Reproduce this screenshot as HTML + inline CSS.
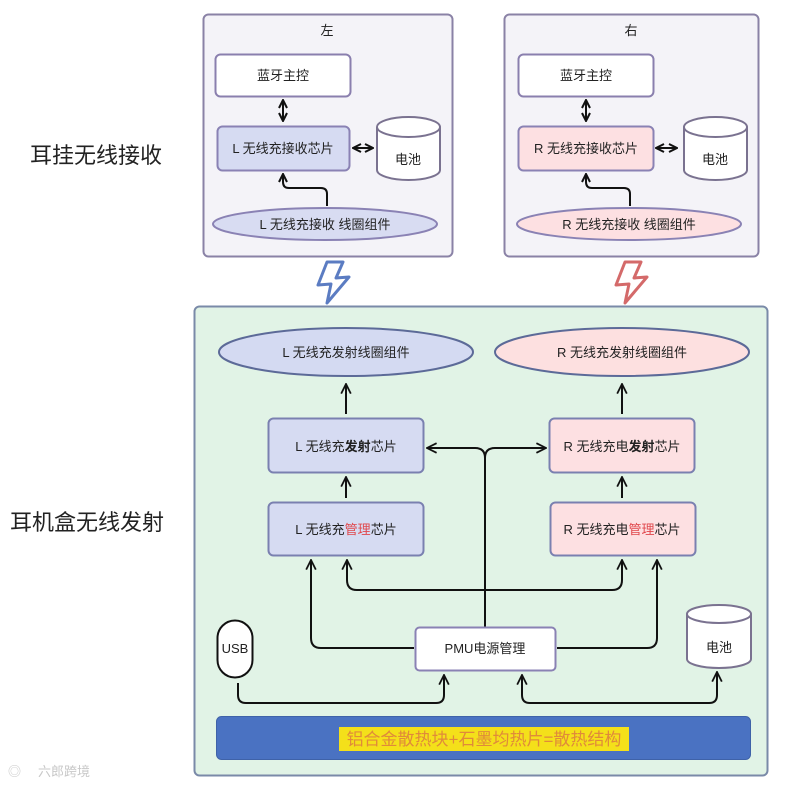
<!DOCTYPE html>
<html><head><meta charset="utf-8"><style>
html,body{margin:0;padding:0;background:#fff;}
svg{display:block;font-family:"Liberation Sans","Noto Sans CJK SC",sans-serif;}
</style></head><body>
<svg width="792" height="787" viewBox="0 0 792 787" xmlns="http://www.w3.org/2000/svg">
<defs>
<marker id="a" viewBox="0 0 10 10" refX="9" refY="5" markerWidth="10" markerHeight="10" orient="auto-start-reverse" markerUnits="userSpaceOnUse">
<path d="M1,1 L9,5 L1,9" fill="none" stroke="#111" stroke-width="2"/>
</marker>
<marker id="b" viewBox="0 0 10 10" refX="9" refY="5" markerWidth="12" markerHeight="12" orient="auto-start-reverse" markerUnits="userSpaceOnUse">
<path d="M1,1 L9,5 L1,9" fill="none" stroke="#111" stroke-width="1.5"/>
</marker>
</defs>
<g font-size="22" fill="#222">
<text x="30" y="163">耳挂无线接收</text>
<text x="10" y="530">耳机盒无线发射</text>
</g>
<g>
<rect x="203.5" y="14.5" width="249" height="242" rx="5" fill="#f4f3f8" stroke="#8a82a6" stroke-width="2"/>
<text x="327" y="35" font-size="13" text-anchor="middle" fill="#222">左</text>
<rect x="215.5" y="54.5" width="135" height="42" rx="5" fill="#fff" stroke="#8a7fae" stroke-width="2"/>
<text x="283" y="80" font-size="13" text-anchor="middle" fill="#222">蓝牙主控</text>
<line x1="283" y1="100" x2="283" y2="121" stroke="#111" stroke-width="2" marker-start="url(#a)" marker-end="url(#a)"/>
<rect x="217.5" y="126.5" width="132" height="44" rx="5" fill="#d6dbf2" stroke="#8a82b4" stroke-width="2"/>
<text x="283" y="153" font-size="13" text-anchor="middle" fill="#222">L 无线充接收芯片</text>
<line x1="353" y1="148" x2="373" y2="148" stroke="#111" stroke-width="2" marker-start="url(#a)" marker-end="url(#a)"/>
<path d="M377,127 v43 a31.5,10 0 0 0 63,0 v-43" fill="#fff" stroke="#7a7290" stroke-width="2"/>
<ellipse cx="408.5" cy="127" rx="31.5" ry="10" fill="#fff" stroke="#7a7290" stroke-width="2"/>
<text x="408" y="164" font-size="13" text-anchor="middle" fill="#222">电池</text>
<path d="M327,206 V194 q0,-6 -6,-6 H289 q-6,0 -6,-6 V174" fill="none" stroke="#111" stroke-width="2" marker-end="url(#a)"/>
<ellipse cx="325" cy="224" rx="112" ry="16" fill="#d8dcf2" stroke="#8a82b4" stroke-width="2"/>
<text x="325" y="229" font-size="13" text-anchor="middle" fill="#222">L 无线充接收 线圈组件</text>
</g>
<g>
<rect x="504.5" y="14.5" width="254" height="242" rx="5" fill="#f4f3f8" stroke="#8a82a6" stroke-width="2"/>
<text x="631" y="35" font-size="13" text-anchor="middle" fill="#222">右</text>
<rect x="518.5" y="54.5" width="135" height="42" rx="5" fill="#fff" stroke="#8a7fae" stroke-width="2"/>
<text x="586" y="80" font-size="13" text-anchor="middle" fill="#222">蓝牙主控</text>
<line x1="586" y1="100" x2="586" y2="121" stroke="#111" stroke-width="2" marker-start="url(#a)" marker-end="url(#a)"/>
<rect x="518.5" y="126.5" width="135" height="44" rx="5" fill="#fde0e2" stroke="#8a82b4" stroke-width="2"/>
<text x="586" y="153" font-size="13" text-anchor="middle" fill="#222">R 无线充接收芯片</text>
<line x1="656" y1="148" x2="677" y2="148" stroke="#111" stroke-width="2" marker-start="url(#a)" marker-end="url(#a)"/>
<path d="M684,127 v43 a31.5,10 0 0 0 63,0 v-43" fill="#fff" stroke="#7a7290" stroke-width="2"/>
<ellipse cx="715.5" cy="127" rx="31.5" ry="10" fill="#fff" stroke="#7a7290" stroke-width="2"/>
<text x="715" y="164" font-size="13" text-anchor="middle" fill="#222">电池</text>
<path d="M630,206 V194 q0,-6 -6,-6 H592 q-6,0 -6,-6 V174" fill="none" stroke="#111" stroke-width="2" marker-end="url(#a)"/>
<ellipse cx="629" cy="224" rx="112" ry="16" fill="#fde0e2" stroke="#8a82b4" stroke-width="2"/>
<text x="629" y="229" font-size="13" text-anchor="middle" fill="#222">R 无线充接收 线圈组件</text>
</g>
<path d="M327,262 L318,285 L331,284 L327,303 L349,277 L336,278 L343,262 Z" fill="#fff" stroke="#5b7cc2" stroke-width="3" stroke-linejoin="round"/>
<path d="M625,262 L616,285 L629,284 L625,303 L647,277 L634,278 L641,262 Z" fill="#fff" stroke="#d46a6a" stroke-width="3" stroke-linejoin="round"/>
<rect x="194.5" y="306.5" width="573" height="469" rx="5" fill="#e1f3e6" stroke="#7a8aa8" stroke-width="2"/>
<ellipse cx="346" cy="352" rx="127" ry="24" fill="#d4daf2" stroke="#5c6a98" stroke-width="2"/>
<text x="346" y="357" font-size="13" text-anchor="middle" fill="#222">L 无线充发射线圈组件</text>
<ellipse cx="622" cy="352" rx="127" ry="24" fill="#fde0e0" stroke="#5c6a98" stroke-width="2"/>
<text x="622" y="357" font-size="13" text-anchor="middle" fill="#222">R 无线充发射线圈组件</text>
<line x1="346" y1="414" x2="346" y2="384" stroke="#111" stroke-width="2" marker-end="url(#b)"/>
<line x1="622" y1="414" x2="622" y2="384" stroke="#111" stroke-width="2" marker-end="url(#b)"/>
<rect x="268.5" y="418.5" width="155" height="54" rx="5" fill="#d6dbf2" stroke="#7a80b0" stroke-width="2"/>
<text x="346" y="451" font-size="13" text-anchor="middle" fill="#222">L 无线充<tspan font-weight="bold">发射</tspan>芯片</text>
<rect x="549.5" y="418.5" width="145" height="54" rx="5" fill="#fde0e2" stroke="#7a80b0" stroke-width="2"/>
<text x="622" y="451" font-size="13" text-anchor="middle" fill="#222">R 无线充电<tspan font-weight="bold">发射</tspan>芯片</text>
<line x1="346" y1="498" x2="346" y2="477" stroke="#111" stroke-width="2" marker-end="url(#b)"/>
<line x1="622" y1="498" x2="622" y2="477" stroke="#111" stroke-width="2" marker-end="url(#b)"/>
<rect x="268.5" y="502.5" width="155" height="53" rx="5" fill="#d6dbf2" stroke="#7a80b0" stroke-width="2"/>
<text x="346" y="534" font-size="13" text-anchor="middle" fill="#222">L 无线充<tspan fill="#e0474c">管理</tspan>芯片</text>
<rect x="550.5" y="502.5" width="145" height="53" rx="5" fill="#fde0e2" stroke="#7a80b0" stroke-width="2"/>
<text x="622" y="534" font-size="13" text-anchor="middle" fill="#222">R 无线充电<tspan fill="#e0474c">管理</tspan>芯片</text>
<path d="M485,627 V458 q0,-10 -10,-10 H427" fill="none" stroke="#111" stroke-width="2" marker-end="url(#b)"/>
<path d="M485,458 q0,-10 10,-10 H546" fill="none" stroke="#111" stroke-width="2" marker-end="url(#b)"/>
<path d="M347,560 V580 q0,10 10,10 H612 q10,0 10,-10 V560" fill="none" stroke="#111" stroke-width="2" marker-start="url(#b)" marker-end="url(#b)"/>
<path d="M414,648 H321 q-10,0 -10,-10 V560" fill="none" stroke="#111" stroke-width="2" marker-end="url(#b)"/>
<path d="M557,648 H647 q10,0 10,-10 V560" fill="none" stroke="#111" stroke-width="2" marker-end="url(#b)"/>
<rect x="217.5" y="620.5" width="35" height="57" rx="17.5" fill="#fff" stroke="#111" stroke-width="2"/>
<text x="235" y="653" font-size="13" text-anchor="middle" fill="#222">USB</text>
<rect x="415.5" y="627.5" width="140" height="43" rx="4" fill="#fff" stroke="#8a82b4" stroke-width="2"/>
<text x="485" y="653" font-size="13" text-anchor="middle" fill="#222">PMU电源管理</text>
<path d="M687,614 v45 a32,9 0 0 0 64,0 v-45" fill="#fff" stroke="#7a7290" stroke-width="2"/>
<ellipse cx="719" cy="614" rx="32" ry="9" fill="#fff" stroke="#7a7290" stroke-width="2"/>
<text x="719" y="652" font-size="13" text-anchor="middle" fill="#222">电池</text>
<path d="M238,683 V695 q0,8 8,8 H436 q8,0 8,-8 V675" fill="none" stroke="#111" stroke-width="2" marker-end="url(#b)"/>
<path d="M522,675 V695 q0,8 8,8 H709 q8,0 8,-8 V672" fill="none" stroke="#111" stroke-width="2" marker-start="url(#b)" marker-end="url(#b)"/>
<rect x="216.5" y="716.5" width="534" height="43" rx="5" fill="#4a72c2" stroke="#3f62a8" stroke-width="1"/>
<rect x="339" y="727" width="290" height="24" fill="#f4e01a"/>
<text x="484" y="745" font-size="17" text-anchor="middle" fill="#e08a3a">铝合金散热块+石墨均热片=散热结构</text>
<text x="38" y="776" font-size="13" fill="#c8c8c8">六郎跨境</text>
<text x="8" y="776" font-size="13" fill="#c8c8c8">◎</text>
</svg>
</body></html>
